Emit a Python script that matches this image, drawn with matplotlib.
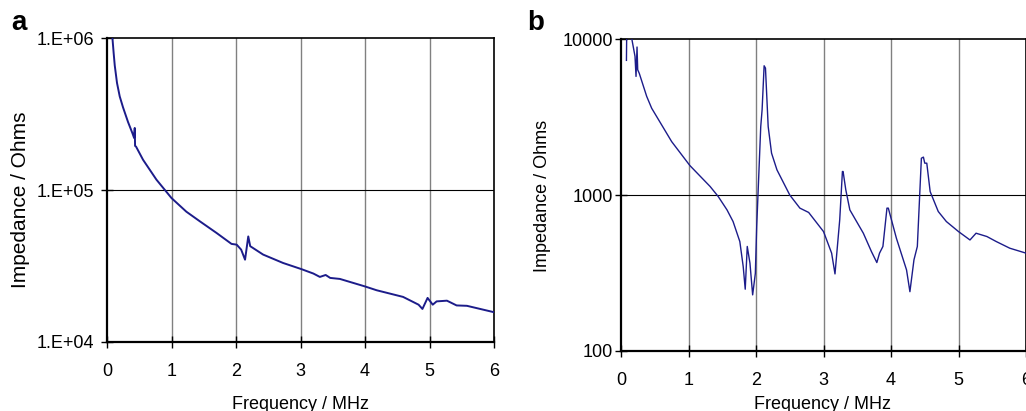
import matplotlib
matplotlib.use("Agg")
import matplotlib.pyplot as plt

# Panel a: impedance vs frequency (MHz, Ohms)
freq_a = [0.08, 0.103, 0.12, 0.155, 0.197, 0.248, 0.326, 0.393, 0.42, 0.43, 0.435, 0.45,
          0.559, 0.766, 1.0, 1.23, 1.44, 1.70, 1.93, 2.01, 2.08, 2.14, 2.19, 2.22, 2.42,
          2.73, 3.01, 3.20, 3.30, 3.39, 3.46, 3.61, 4.0, 4.18, 4.59, 4.83, 4.89, 4.97,
          5.05, 5.11, 5.27, 5.42, 5.58, 6.0]
imp_a = [1.05e6, 7.96e5, 6.6e5, 5.06e5, 4.13e5, 3.5e5, 2.8e5, 2.37e5, 2.2e5, 2.56e5,
         1.95e5, 1.93e5, 1.58e5, 1.17e5, 8.85e4, 7.2e4, 6.22e4, 5.21e4, 4.42e4, 4.37e4,
         4.05e4, 3.48e4, 4.95e4, 4.27e4, 3.76e4, 3.31e4, 3.02e4, 2.82e4, 2.68e4, 2.76e4,
         2.64e4, 2.6e4, 2.32e4, 2.19e4, 1.98e4, 1.76e4, 1.65e4, 1.95e4, 1.76e4, 1.85e4,
         1.87e4, 1.74e4, 1.73e4, 1.57e4]

# Panel b
freq_b = [0.08, 0.085, 0.12, 0.16, 0.207, 0.222, 0.237, 0.247, 0.27, 0.38, 0.454, 0.75,
          1.02, 1.32, 1.44, 1.57, 1.66, 1.76, 1.81, 1.84, 1.87, 1.91, 1.95, 1.99, 2.01,
          2.07, 2.09, 2.12, 2.14, 2.18, 2.23, 2.31, 2.50, 2.65, 2.78, 3.0, 3.12, 3.17,
          3.24, 3.28, 3.29, 3.33, 3.39, 3.59, 3.71, 3.79, 3.83, 3.88, 3.94, 3.96, 4.08,
          4.23, 4.28, 4.34, 4.39, 4.45, 4.48, 4.50, 4.53, 4.58, 4.70, 4.82, 5.0, 5.17,
          5.26, 5.42, 5.56, 5.76, 6.0]
imp_b = [7300, 12000, 14000, 10000, 7740, 5760, 8890, 6350, 6030, 4290, 3600, 2200,
         1545, 1134, 978, 803, 676, 503, 348, 249, 468, 366, 229, 315, 628,
         2750, 3520, 6740, 6510, 2750, 1855, 1450, 1000, 824, 773, 583, 424, 312,
         693, 1415, 1415, 1080, 803, 569, 434, 369, 424, 468, 824, 824, 528,
         331, 240, 384, 468, 1722, 1750, 1600, 1600, 1052, 784, 676, 583, 515,
         569, 542, 503, 456, 424]

line_col = '#1c1c8a'
plt.rcParams['font.family'] = ['Liberation Sans', 'DejaVu Sans']

fig = plt.figure(figsize=(10.26, 4.11), dpi=100)
ax1 = fig.add_axes([0.1043, 0.1679, 0.3772, 0.7396])
ax2 = fig.add_axes([0.6053, 0.146, 0.3947, 0.759])


def style(ax, ylim, yticks, ylabels, ypad, xlab_x, ylab_pos, ylab_size):
    ax.set_yscale('log')
    ax.set_xlim(0, 6)
    ax.set_ylim(*ylim)
    ax.set_xticks(range(7))
    ax.set_yticks(yticks)
    ax.set_yticklabels(ylabels)
    ax.minorticks_off()
    ax.tick_params(axis='both', labelsize=13, direction='inout', length=8, width=1)
    ax.tick_params(axis='x', pad=11)
    ax.tick_params(axis='y', pad=ypad)
    for x in range(1, 6):
        ax.axvline(x, color='#808080', lw=1, zorder=1)
    ax.axhline(yticks[1], color='black', lw=0.8, zorder=1)
    for s in ['top', 'right']:
        ax.spines[s].set_linewidth(1.2)
    for s in ['left', 'bottom']:
        ax.spines[s].set_linewidth(1.6)
    ax.set_xlabel('Frequency / MHz', fontsize=13)
    ax.set_ylabel('Impedance / Ohms', fontsize=ylab_size)
    ax.xaxis.set_label_coords(xlab_x, 0.0365, transform=fig.transFigure)
    ax.yaxis.set_label_coords(ylab_pos[0], ylab_pos[1], transform=fig.transFigure)


ax1.plot(freq_a, imp_a, color=line_col, lw=1.4, zorder=3)
style(ax1, (1e4, 1e6), [1e4, 1e5, 1e6], ['1.E+04', '1.E+05', '1.E+06'],
      5, 0.2929, (0.029, 0.513), 15)

ax2.plot(freq_b, imp_b, color=line_col, lw=1.0, zorder=3)
style(ax2, (100, 10000), [100, 1000, 10000], ['100', '1000', '10000'],
      2, 0.8021, (0.537, 0.523), 13)

fig.text(0.011, 0.927, 'a', fontsize=20, fontweight='bold', va='baseline')
fig.text(0.514, 0.927, 'b', fontsize=20, fontweight='bold', va='baseline')

fig.savefig('out.png', dpi=100)
